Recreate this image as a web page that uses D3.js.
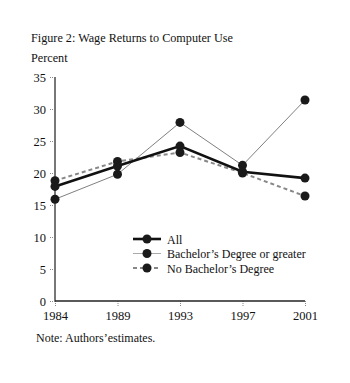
<!DOCTYPE html>
<html>
<head>
<meta charset="utf-8">
<script src="https://cdn.jsdelivr.net/npm/d3@7"></script>
<style>
body { margin: 0; background: #fff; }
text { font-family: "Liberation Serif", "Times New Roman", serif; fill: #111; }
</style>
</head>
<body>
<div id="chart"></div>
<script>
// Figure 2: wage returns to computer use

var years = ["1984", "1989", "1993", "1997", "2001"];
var allWorkers = [17.9, 21.1, 24.2, 20.2, 19.2];
var bachelors = [15.9, 19.8, 27.9, 21.2, 31.4];
var noBachelors = [18.8, 21.8, 23.2, 20.0, 16.4];
var yTicks = [0, 5, 10, 15, 20, 25, 30, 35];
var seriesNames = ["All", "Bachelor\u2019s Degree or greater", "No Bachelor\u2019s Degree"];

var width = 350, height = 383;
var margin = {top: 77, right: 45, bottom: 82, left: 55};

var svg = d3.select("#chart")
    .append("svg")
    .attr("width", width)
    .attr("height", height);

var x = d3.scalePoint()
    .domain(years)
    .range([margin.left, width - margin.right]);

var y = d3.scaleLinear()
    .domain([0, 35])
    .range([height - margin.bottom, margin.top]);

// titles
svg.append("text")
    .attr("x", 31).attr("y", 42)
    .style("font-size", "12.2px")
    .text("Figure 2: Wage Returns to Computer Use");

svg.append("text")
    .attr("x", 31).attr("y", 62)
    .style("font-size", "12.2px")
    .text("Percent");

svg.append("text")
    .attr("x", 36).attr("y", 342)
    .style("font-size", "12px")
    .text("Note: Authors\u2019estimates.");

// y axis
var yAxis = svg.append("g")
    .attr("transform", "translate(" + margin.left + ",0)")
    .call(d3.axisLeft(y).tickValues(yTicks).tickSize(6).tickPadding(3));
yAxis.select(".domain").remove();
yAxis.selectAll(".tick line")
    .attr("stroke", "#888")
    .attr("stroke-dasharray", "1,1");
yAxis.selectAll(".tick text")
    .style("font-size", "12.5px")
    .style("font-family", "Liberation Serif, serif")
    .attr("fill", "#111");
svg.append("line")
    .attr("x1", margin.left).attr("x2", margin.left)
    .attr("y1", y(35)).attr("y2", y(0))
    .attr("stroke", "#777").attr("stroke-width", 2);

// x axis
var xAxis = svg.append("g")
    .attr("transform", "translate(0," + y(0) + ")")
    .call(d3.axisBottom(x).tickSize(6).tickPadding(4));
xAxis.select(".domain").remove();
xAxis.selectAll(".tick line")
    .attr("stroke", "#888")
    .attr("stroke-dasharray", "1,1");
xAxis.selectAll(".tick text")
    .style("font-size", "12.5px")
    .style("font-family", "Liberation Serif, serif")
    .attr("fill", "#111");
svg.append("line")
    .attr("x1", margin.left).attr("x2", width - margin.right)
    .attr("y1", y(0)).attr("y2", y(0))
    .attr("stroke", "#222").attr("stroke-width", 1.5);

var series = [
    {name: seriesNames[0], values: allWorkers, color: "#111", width: 2.6, dash: null},
    {name: seriesNames[1], values: bachelors, color: "#808080", width: 1, dash: null},
    {name: seriesNames[2], values: noBachelors, color: "#888", width: 2, dash: "4,3"}
];

var line = d3.line()
    .x(function(d, i) { return x(years[i]); })
    .y(function(d) { return y(d); });

// draw order: bachelor, no bachelor, then all on top
[series[1], series[2], series[0]].forEach(function(s) {
    svg.append("path")
        .datum(s.values)
        .attr("d", line)
        .attr("fill", "none")
        .attr("stroke", s.color)
        .attr("stroke-width", s.width)
        .attr("stroke-dasharray", s.dash);
});

[series[1], series[2], series[0]].forEach(function(s) {
    svg.selectAll(null)
        .data(s.values)
        .enter()
        .append("circle")
        .attr("cx", function(d, i) { return x(years[i]); })
        .attr("cy", function(d) { return y(d); })
        .attr("r", 4.5)
        .attr("fill", "#1a1a1a");
});

// legend
var legend = svg.append("g")
    .attr("transform", "translate(133,239)");

series.forEach(function(s, i) {
    var g = legend.append("g").attr("transform", "translate(0," + (i * 14.5) + ")");
    g.append("line")
        .attr("x1", 0).attr("x2", 28)
        .attr("stroke", i == 1 ? "#aaa" : s.color)
        .attr("stroke-width", s.width)
        .attr("stroke-dasharray", s.dash);
    g.append("circle")
        .attr("cx", 14).attr("r", 4.5)
        .attr("fill", "#1a1a1a");
    g.append("text")
        .attr("x", 34).attr("y", 4.5)
        .style("font-size", "12px")
        .text(s.name);
});
</script>
</body>
</html>
